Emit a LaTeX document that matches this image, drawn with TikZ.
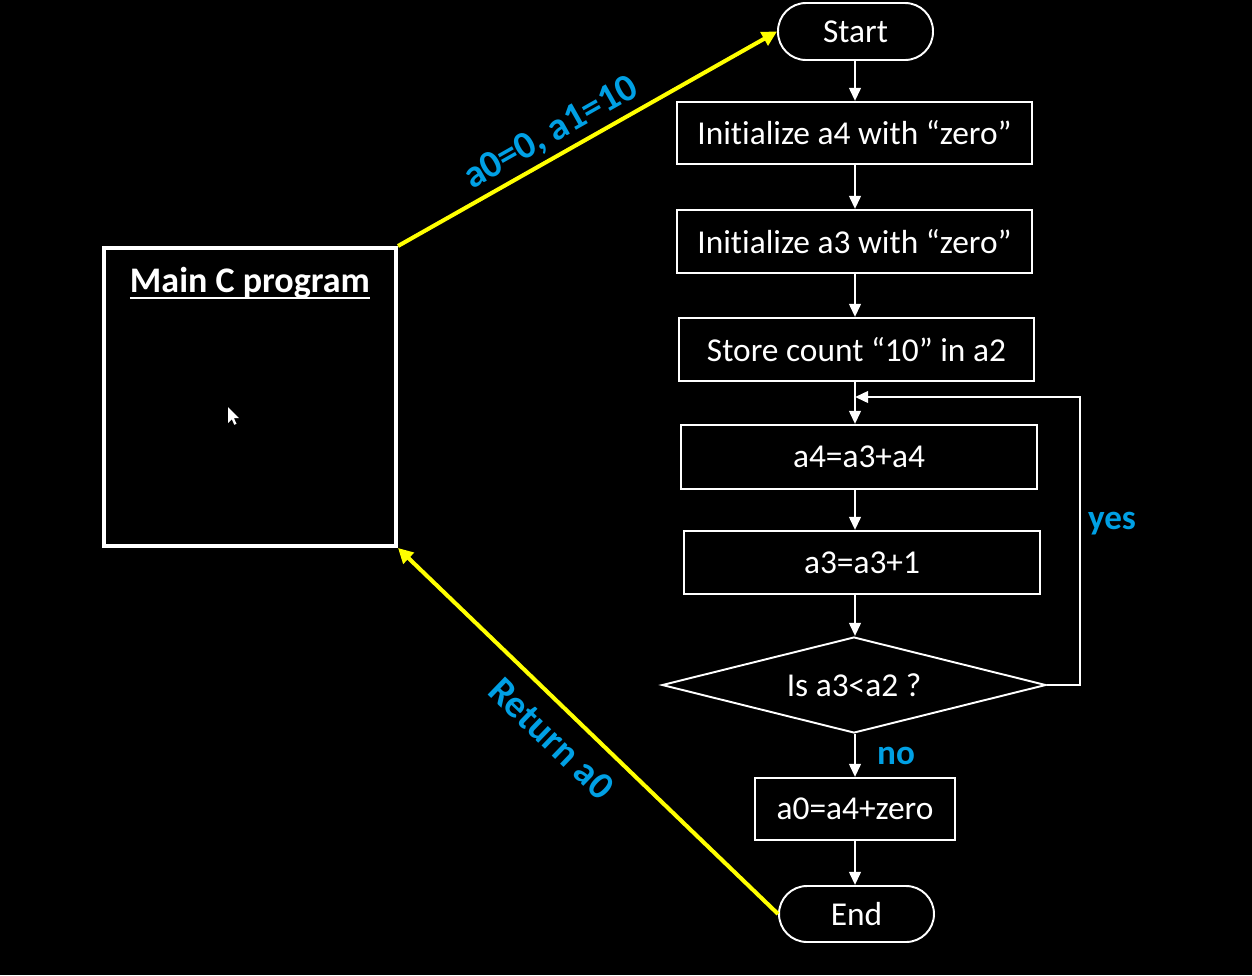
\documentclass[tikz,border=0pt]{standalone}
\usepackage{fontspec}
\setmainfont{Carlito}[Ligatures=NoCommon]
\usetikzlibrary{shapes.geometric,arrows.meta,calc}
\definecolor{lblue}{RGB}{0,160,228}
\definecolor{ylw}{RGB}{255,255,0}
\newcommand{\myul}[1]{\setbox0\hbox{#1}\rlap{\rule[-4pt]{\wd0}{1.3pt}}\box0}
\begin{document}
\begin{tikzpicture}[x=0.02cm,y=-0.02cm,
  box/.style={draw=white, line width=1.1pt, text=white, font=\fontsize{19}{21}\selectfont, inner sep=0pt},
  term/.style={box, rounded corners=0.56cm},
  flow/.style={draw=white, line width=1.6pt, -{Triangle[length=7.5pt,width=6.5pt]}},
  yarrow/.style={draw=ylw, line width=2.3pt, -{Triangle[length=8.5pt,width=8.5pt]}},
  lbl/.style={text=lblue, font=\bfseries\fontsize{22}{24}\selectfont, inner sep=1pt},
  smalllbl/.style={text=lblue, font=\bfseries\fontsize{20}{22}\selectfont, inner sep=0pt}]
\fill[black] (0,0) rectangle (1252,975);
\useasboundingbox (0,0) rectangle (1252,975);

\coordinate (col) at (855,0);
\coordinate (loopx) at (1080,397);
\coordinate (join) at (855,397);

\node[term, minimum width=3.1cm, minimum height=1.14cm] (start) at (855.5,31.5) {Start};
\node[box, minimum width=7.1cm, minimum height=1.24cm] (ia4) at (854.5,133) {Initialize a4 with “zero”};
\node[box, minimum width=7.1cm, minimum height=1.26cm] (ia3) at (854.5,241.5) {Initialize a3 with “zero”};
\node[box, minimum width=7.1cm, minimum height=1.26cm] (st) at (856.5,349.5) {Store count “10” in a2};
\node[box, minimum width=7.12cm, minimum height=1.28cm] (add) at (859,457) {a4=a3+a4};
\node[box, minimum width=7.12cm, minimum height=1.26cm] (inc) at (862,562.5) {a3=a3+1};
\node[box, diamond, aspect=4, minimum width=7.68cm, minimum height=1.92cm] (dec) at (854,685) {Is a3<a2 ?};
\node[box, minimum width=4.0cm, minimum height=1.24cm] (ret) at (855,809) {a0=a4+zero};
\node[term, minimum width=3.1cm, minimum height=1.12cm] (endn) at (856.5,914) {End};

\node[draw=white, line width=2.3pt, minimum width=5.84cm, minimum height=5.96cm, inner sep=0pt] (main) at (250,397) {};
\node[text=white, font=\bfseries\fontsize{20.5}{22}\selectfont, inner sep=0pt] (title) at (250,283) {\myul{Main C program}};

% mouse pointer
\fill[white] (228,407) -- (228,423) -- (231.8,419.2) -- (234.3,424.8) -- (236.5,423.8) -- (234,418.2) -- (239,418.2) -- cycle;

\draw[flow] (start.south -| col) -- (ia4.north -| col);
\draw[flow] (ia4.south -| col) -- (ia3.north -| col);
\draw[flow] (ia3.south -| col) -- (st.north -| col);
\draw[flow] (st.south -| col) -- (add.north -| col);
\draw[flow] (add.south -| col) -- (inc.north -| col);
\draw[flow] (inc.south -| col) -- (dec.north -| col);
\draw[flow] (dec.south -| col) -- (ret.north -| col);
\draw[flow] (ret.south -| col) -- (endn.north -| col);
\draw[flow] (dec.east) -| (loopx) -- (join);

\node[smalllbl] (yes) at (1112,524) {yes};
\node[smalllbl] (no) at (896,756) {no};

\draw[yarrow] (main.north east) -- (start.west)
  node[lbl, pos=0.434, sloped, above=2pt] {a0=0, a1=10};
\draw[yarrow] (endn.west) -- (main.south east)
  node[lbl, pos=0.54, sloped, below=8pt] {Return a0};
\end{tikzpicture}
\end{document}
